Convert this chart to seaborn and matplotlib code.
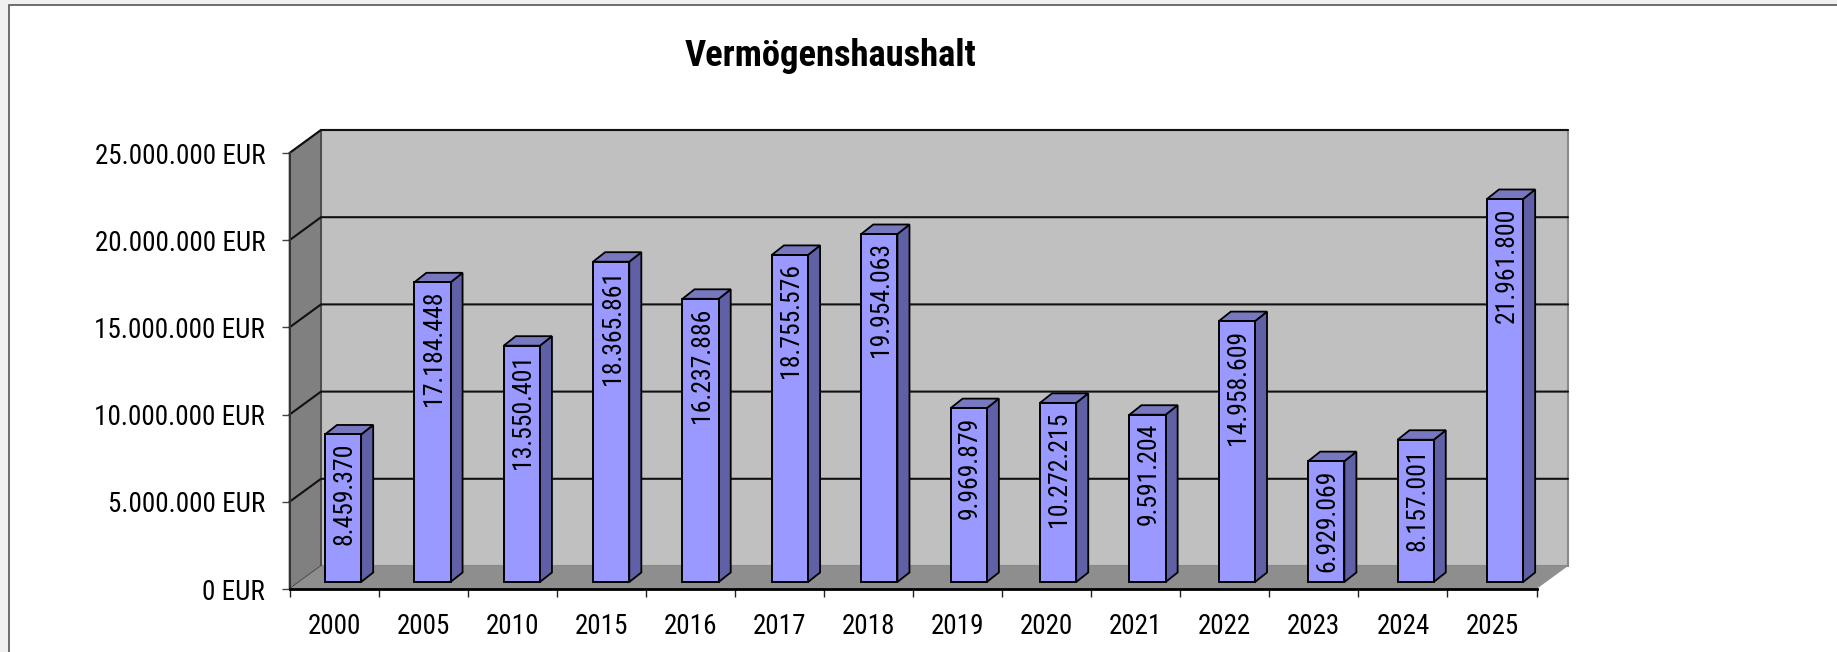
import matplotlib
matplotlib.use('Agg')
import matplotlib.pyplot as plt
from matplotlib.patches import Polygon, Rectangle
from matplotlib.transforms import Affine2D
import seaborn as sns

years = ['2000', '2005', '2010', '2015', '2016', '2017', '2018', '2019', '2020',
         '2021', '2022', '2023', '2024', '2025']
values = [8459370, 17184448, 13550401, 18365861, 16237886, 18755576, 19954063,
          9969879, 10272215, 9591204, 14958609, 6929069, 8157001, 21961800]
value_labels = ['8.459.370', '17.184.448', '13.550.401', '18.365.861', '16.237.886',
                '18.755.576', '19.954.063', '9.969.879', '10.272.215', '9.591.204',
                '14.958.609', '6.929.069', '8.157.001', '21.961.800']
y_ticks = [0, 5000000, 10000000, 15000000, 20000000, 25000000]
y_labels = ['0 EUR', '5.000.000 EUR', '10.000.000 EUR', '15.000.000 EUR',
            '20.000.000 EUR', '25.000.000 EUR']

W, H = 1837, 652
left, right, y_zero, y_top = 289.5, 1536.5, 589, 153
# depth of the fake 3d box / of the bars, in pixels
box_dx, box_dy = 31.5, 23
bar_dx, bar_dy = 12, 9.5
base_dx, base_dy = 9, 7
# the bars drift slightly right of the tick slots
bar_spread = 1.0035

sns.set_theme(style='white')
plt.rcParams['font.family'] = ['Roboto Condensed', 'Liberation Sans', 'DejaVu Sans']

fig = plt.figure(figsize=(W / 100, H / 100), dpi=100, facecolor='#f0f0f0')
fig.patches.append(Rectangle((9 / W, -0.02), 1.1, 1 - 5 / H + 0.02, transform=fig.transFigure,
                             facecolor='white', edgecolor='#555555', linewidth=1.2, zorder=-1))

ax = fig.add_axes([left / W, 1 - y_zero / H, (right - left) / W, (y_zero - y_top) / H])
ax.patch.set_alpha(0)

sns.barplot(x=years, y=values, color='#9999ff', saturation=1, width=0.405,
            edgecolor='black', linewidth=1.4, ax=ax, zorder=4)
ax.set_xlim(-0.5, len(years) - 0.5)
ax.set_ylim(0, 25000000)

# pixel -> data sizes
px_x = len(years) / (right - left)
px_y = 25000000 / (y_zero - y_top)
xa, xb = ax.get_xlim()
ddx, ddy = box_dx * px_x, box_dy * px_y

# walls and floor
ymax = 25000000
ax.add_patch(Polygon([(xa + ddx, ddy), (xb + ddx, ddy), (xb + ddx, ymax + ddy), (xa + ddx, ymax + ddy)],
                     facecolor='#c0c0c0', edgecolor='#8a8a8a', linewidth=1.5, clip_on=False, zorder=1))
ax.add_patch(Polygon([(xa, 0), (xa + ddx, ddy), (xa + ddx, ymax + ddy), (xa, ymax)],
                     facecolor='#808080', edgecolor='#444444', linewidth=1.2, clip_on=False, zorder=1))
ax.add_patch(Polygon([(xa, 0), (xb, 0), (xb + ddx, ddy), (xa + ddx, ddy)],
                     facecolor='#8e8e8e', edgecolor='none', clip_on=False, zorder=1.5))

# gridlines run along the side wall and the back wall
for v in y_ticks[1:]:
    ax.plot([xa, xa + ddx, xb + ddx], [v, v + ddy, v + ddy], color='#111111', linewidth=1.5,
            clip_on=False, zorder=2)

# bars stand in the middle of the floor
first_bar = left + (right - left) / len(years) / 2
shift = ax.transData + Affine2D().translate(-first_bar, 0).scale(bar_spread, 1).translate(first_bar + base_dx, base_dy)
bdx, bdy = bar_dx * px_x, bar_dy * px_y
for bar, label in zip(ax.patches[:len(years)], value_labels):
    bar.set_transform(shift)
    x0, x1, h = bar.get_x(), bar.get_x() + bar.get_width(), bar.get_height()
    ax.add_patch(Polygon([(x1, 0), (x1 + bdx, bdy), (x1 + bdx, h + bdy), (x1, h)], transform=shift,
                         facecolor='#6060a6', edgecolor='black', linewidth=1.3, clip_on=False, zorder=3))
    ax.add_patch(Polygon([(x0, h), (x1, h), (x1 + bdx, h + bdy), (x0 + bdx, h + bdy)], transform=shift,
                         facecolor='#7878c0', edgecolor='black', linewidth=1.3, clip_on=False, zorder=3))
    ax.annotate(label, ((x0 + x1) / 2, h), xycoords=shift, xytext=(1, -6), textcoords='offset points',
                rotation=90, ha='center', va='top', fontsize=18.5, color='black', zorder=5)

# axes
sns.despine(ax=ax, top=True, right=True)
ax.spines['left'].set_color('#333333')
ax.spines['left'].set_linewidth(1.4)
ax.spines['bottom'].set_color('black')
ax.spines['bottom'].set_linewidth(2)
for side in ['left', 'bottom']:
    ax.spines[side].set_zorder(6)
ax.set_yticks(y_ticks)
ax.set_yticklabels(y_labels, fontsize=19.5, color='black')
ax.set_xticks(range(len(years)))
ax.set_xticklabels(years, fontsize=19.5, color='black')
ax.set_xticks([i - 0.5 for i in range(len(years) + 1)], minor=True)
ax.tick_params(axis='x', which='major', length=0, pad=17)
ax.tick_params(axis='x', which='minor', length=6, width=1, color='#222222', bottom=True)
ax.tick_params(axis='y', which='major', length=6, width=1, color='#444444', pad=11.5, left=True)

fig.text(831 / W, 1 - 55.5 / H, 'Vermögenshaushalt', fontsize=26.4, fontweight='bold',
         ha='center', va='center', color='black')

fig.savefig('out.png', dpi=100, facecolor=fig.get_facecolor())
